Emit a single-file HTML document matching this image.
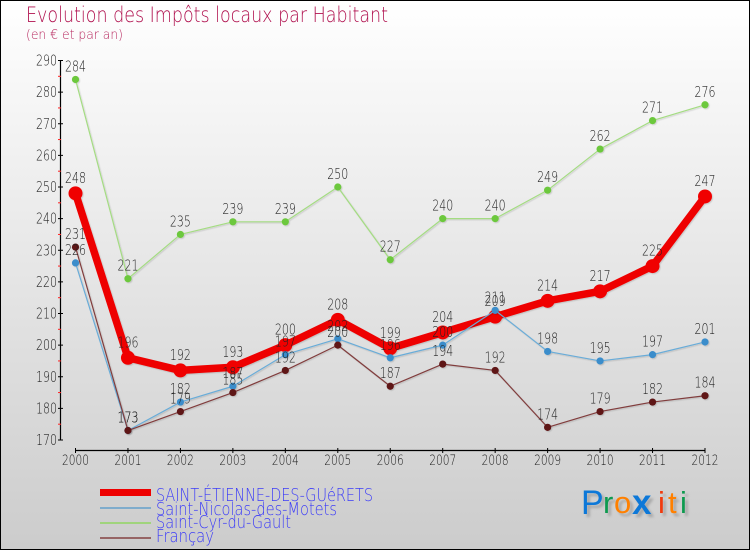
<!DOCTYPE html>
<html lang="fr">
<head>
<meta charset="utf-8">
<title>Evolution des Impôts locaux par Habitant</title>
<style>
html,body{margin:0;padding:0;background:#fff}
svg{display:block}
text{font-family:"DejaVu Sans","Liberation Sans",sans-serif;font-weight:200}
#logo text{font-family:"Liberation Sans",sans-serif;font-weight:400}
</style>
</head>
<body>
<svg id="chart" xmlns="http://www.w3.org/2000/svg" width="750" height="550" viewBox="0 0 750 550">
<defs>
<linearGradient id="bg" x1="0" y1="0" x2="0" y2="1">
<stop offset="0" stop-color="#ffffff"/>
<stop offset="1" stop-color="#cccccc"/>
</linearGradient>
<filter id="soft" x="-20%" y="-20%" width="140%" height="140%">
<feDropShadow dx="1" dy="1" stdDeviation="0.5" flood-color="#000" flood-opacity="0.15"/>
</filter>
<filter id="logo-shadow" x="-30%" y="-30%" width="160%" height="160%">
<feDropShadow dx="3" dy="3" stdDeviation="1.2" flood-color="#000" flood-opacity="0.2"/>
</filter>
</defs>
<rect x="0.5" y="0.5" width="749" height="549" fill="url(#bg)" stroke="#000" stroke-width="1"/>
<text x="26" y="22" font-size="21" fill="#b0104e" textLength="362" lengthAdjust="spacingAndGlyphs">Evolution des Impôts locaux par Habitant</text>
<text x="26" y="39" font-size="13" fill="#b82a60" textLength="97" lengthAdjust="spacingAndGlyphs">(en € et par an)</text>
<g id="axes"></g>
<g id="series"></g>
<g id="legend"></g>
<g id="logo" filter="url(#logo-shadow)" font-size="31">
<text x="581" y="514" fill="#0a78d8" font-size="34">P</text>
<text x="603" y="513" fill="#0f9a50">r</text>
<text x="614" y="513" fill="#ff8000">o</text>
<text x="632" y="514" fill="#0a78d8" style="font-weight:700" font-size="35">x</text>
<text x="658" y="513" fill="#f03a10">i</text>
<text x="668" y="513" fill="#ff8000">t</text>
<text x="680" y="513" fill="#0f9a50">i</text>
</g>
</svg>
<script>
const years = ['2000','2001','2002','2003','2004','2005','2006','2007','2008','2009','2010','2011','2012'];
const yTicks = [170,180,190,200,210,220,230,240,250,260,270,280,290];
const yMinorTicks = [175,185,195,205,215,225,235,245,255,265,275,285];
const etienneValues = [248,196,192,193,200,208,199,204,209,214,217,225,247];
const nicolasValues = [226,173,182,187,197,202,196,200,211,198,195,197,201];
const cyrValues = [284,221,235,239,239,250,227,240,240,249,262,271,276];
const francayValues = [231,173,179,185,192,200,187,194,192,174,179,182,184];
const seriesNames = ['SAINT-ÉTIENNE-DES-GUéRETS','Saint-Nicolas-des-Motets','Saint-Cyr-du-Gault','Françay'];

const NS = 'http://www.w3.org/2000/svg';
const xScale = i => 75.5 + i * (705 - 75.5) / (years.length - 1);
const yScale = v => 440 - (v - 170) * (440 - 60.5) / (290 - 170);

function make(parent, tag, attrs, content) {
  const el = document.createElementNS(NS, tag);
  for (const k in attrs) el.setAttribute(k, attrs[k]);
  if (content !== undefined) el.textContent = content;
  parent.appendChild(el);
  return el;
}

const axes = document.getElementById('axes');
const yAxis = make(axes, 'line', {x1:60.5, x2:60.5, y1:yScale(290), y2:yScale(170), stroke:'#000', 'stroke-width':1.2});


const xAxis = make(axes, 'line', {x1:xScale(0), x2:xScale(12), y1:450.5, y2:450.5, stroke:'#000', 'stroke-width':1.2});



yMinorTicks.forEach(v => {
  const t = make(axes, 'line', {x1:58, x2:61, y1:yScale(v), y2:yScale(v), stroke:'#f22', 'stroke-width':1});
  
  
});
yTicks.forEach(v => {
  const t = make(axes, 'line', {x1:58, x2:63, y1:yScale(v), y2:yScale(v), stroke:'#000', 'stroke-width':1});
  
  
  const l = make(axes, 'text', {x:57, y:yScale(v) + 5, 'font-size':15, fill:'#222', 'text-anchor':'end', textLength:21, lengthAdjust:'spacingAndGlyphs'}, String(v));
  
  
});
years.forEach((y, i) => {
  const t = make(axes, 'line', {x1:xScale(i), x2:xScale(i), y1:448, y2:453, stroke:'#000', 'stroke-width':1});
  
  
  const l = make(axes, 'text', {x:xScale(i), y:465, 'font-size':14, fill:'#222', 'text-anchor':'middle', textLength:27, lengthAdjust:'spacingAndGlyphs'}, y);
  
  
});

const seriesRoot = document.getElementById('series');
function drawSeries(values, lineColor, dotColor, lineWidth, radius, labelGap, seriesName) {
  const g = make(seriesRoot, 'g', {filter:'url(#soft)'});
  
  
  const pts = values.map((v, i) => xScale(i).toFixed(2) + ',' + yScale(v).toFixed(2)).join(' ');
  const line = make(g, 'polyline', {points:pts, fill:'none', stroke:lineColor, 'stroke-width':lineWidth, 'stroke-linejoin':'round'});
  
  
  values.forEach((v, i) => {
    const c = make(g, 'circle', {cx:xScale(i), cy:yScale(v), r:radius, fill:dotColor});
    
    
  });
  return () => values.forEach((v, i) => {
    const l = make(seriesRoot, 'text', {x:xScale(i), y:yScale(v) - labelGap, 'font-size':15, fill:'#222', 'text-anchor':'middle', textLength:21, lengthAdjust:'spacingAndGlyphs'}, String(v));
    
    
  });
}
const labelDrawers = [
  drawSeries(etienneValues, '#ee0000', '#f00000', 7.5, 7, 10.5, 'series-saint-etienne'),
  drawSeries(nicolasValues, '#69acd8', '#3a8dcb', 1.2, 3.6, 8, 'series-saint-nicolas'),
  drawSeries(cyrValues, '#a4dc82', '#6cc83c', 1.2, 3.6, 8, 'series-saint-cyr'),
  drawSeries(francayValues, '#803c3c', '#5e1518', 1.2, 3.6, 8, 'series-francay')
];
labelDrawers.forEach(d => d());

const legend = document.getElementById('legend');
const legendColors = ['#ee0000','#7faccc','#a0d47c','#966464'];
const legendThickness = [7,2,2,2];
const legendLineY = [492.5,508,523,538];
const legendTextY = [501,515,528,542];
const legendTextWidth = [217,181,135,58];
seriesNames.forEach((n, i) => {
  const ln = make(legend, 'line', {x1:100, x2:151, y1:legendLineY[i], y2:legendLineY[i], stroke:legendColors[i], 'stroke-width':legendThickness[i]});
  
  
  const t = make(legend, 'text', {x:156, y:legendTextY[i], 'font-size':18, fill:'#3c3cf8', textLength:legendTextWidth[i], lengthAdjust:'spacingAndGlyphs'}, n);
  
  
});
</script>
</body>
</html>
